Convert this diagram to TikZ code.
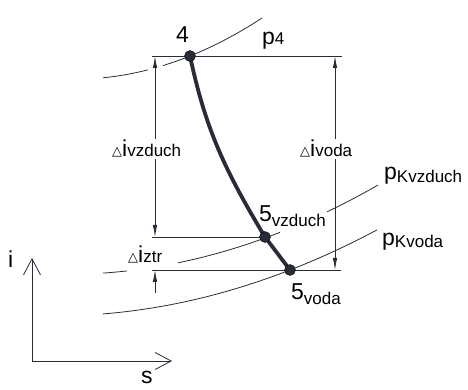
\documentclass[tikz,border=0pt]{standalone}
\usepackage{fontspec}
\setmainfont{Liberation Sans}
\newfontfamily\symfont{DejaVu Sans}
\usepackage{xcolor}
\definecolor{LineDark}{RGB}{40,44,54}
\usepackage{tikz}
\usetikzlibrary{arrows.meta, positioning, calc}

\newcommand{\mainsize}{\fontsize{23}{27}\selectfont}
\newcommand{\subsize}{\fontsize{17}{20}\selectfont}
\newcommand{\lowsub}[2][5pt]{\raisebox{-#1}{\subsize #2}}
\newcommand{\deltri}{\raisebox{1.5pt}{\symfont\fontsize{13}{15}\selectfont △}}

\tikzset{
  % thin isobars
  isobar/.style={draw=LineDark, line width=0.8pt},
  % expansion curve
  process/.style={draw=LineDark, line width=3.8pt},
  % state points
  statept/.style={
    circle, fill=LineDark, draw=black, line width=0.4pt,
    inner sep=0pt, minimum size=11pt
  },
  % dimension lines
  dimline/.style={draw=LineDark, line width=0.8pt},
  dimarr/.style={dimline,
    {Latex[length=12pt,width=4.5pt]}-{Latex[length=12pt,width=4.5pt]}},
  dimend/.style={dimline, -{Latex[length=12pt,width=4.5pt]}},
  % axes
  axisarr/.style={draw=LineDark, line width=0.8pt,
    -{Straight Barb[length=16pt,width=17pt]}},
  % labels
  lbl/.style={font=\mainsize, inner sep=0pt, anchor=base west},
  dlbl/.style={lbl, fill=white, inner sep=1.5pt},
}

\begin{document}
\begin{tikzpicture}[x=1pt, y=1pt]

  \useasboundingbox (0,0) rectangle (468,390);

  %% state points and helpers
  \coordinate (s4)   at (190,334);
  \coordinate (s5vz) at (265,153);
  \coordinate (s5vo) at (290,120);
  \coordinate (lx)   at (155,0);
  \coordinate (rx)   at (335,0);
  \coordinate (ztrbot) at (155,97);
  \coordinate (orig) at (32,29);
  \coordinate (iend) at (32,132);
  \coordinate (send) at (172,29);

  %% isobars
  \draw[isobar] plot[domain=103:148, samples=20]
    (\x, {334+0.402*(\x-190)+0.00174*(\x-190)*(\x-190)});
  \draw[isobar] plot[domain=163:262, samples=30]
    (\x, {334+0.402*(\x-190)+0.00174*(\x-190)*(\x-190)});

  \draw[isobar] plot[domain=103:127, samples=10]
    (\x, {152+0.365*(\x-265)+0.00092*(\x-265)*(\x-265)});
  \draw[isobar] plot[domain=178:280, samples=30]
    (\x, {152+0.365*(\x-265)+0.00092*(\x-265)*(\x-265)});
  \draw[isobar] plot[domain=327:378, samples=20]
    (\x, {152+0.365*(\x-265)+0.00092*(\x-265)*(\x-265)});

  \draw[isobar] plot[domain=103:377, samples=50]
    (\x, {120+0.389*(\x-290)+0.00082*(\x-290)*(\x-290)});

  %% dimensions
  \draw[dimline] (lx |- s4) ++(-3,0) -- ($(rx |- s4)+(7,0)$);
  \draw[dimline] (lx |- s5vz) ++(-3,0) -- (s5vz);
  \draw[dimline] (lx |- s5vo) ++(-3,0) -- ($(rx |- s5vo)+(6,0)$);
  \draw[dimarr] (lx |- s4) -- (lx |- s5vz);
  \draw[dimend] (ztrbot) -- (lx |- s5vo);
  \draw[dimarr] (rx |- s4) -- (rx |- s5vo);

  %% axes
  \draw[axisarr] (orig) -- (iend);
  \draw[axisarr] (orig) -- (send);

  %% expansion
  \draw[process] (s4) to[out=-78, in=121] (s5vz) -- (s5vo);
  \node[statept] (dot4)   at (s4)   {};
  \node[statept] (dot5vz) at (s5vz) {};
  \node[statept] (dot5vo) at (s5vo) {};

  %% labels
  \node[lbl] (l4)    at (176,347) {4};
  \node[lbl] (lp4)   at (262,345) {p{\subsize 4}};
  \node[lbl] (l5vz)  at (259,168) {5\lowsub{vzduch}};
  \node[lbl] (l5vo)  at (291,90)  {5\lowsub{voda}};
  \node[lbl] (lpKvz) at (384,210) {p\lowsub[3pt]{Kvzduch}};
  \node[lbl] (lpKvo) at (382,144) {p\lowsub[1.5pt]{Kvoda}};
  \node[lbl] (li)    at (8,122)   {i};
  \node[lbl] (ls)    at (141,6)   {s};

  \node[dlbl] (ldvz)  at (110.5,233) {\deltri i{\subsize vzduch}};
  \node[dlbl] (ldvo)  at (298.5,233) {\deltri i{\subsize voda}};
  \node[dlbl] (ldztr) at (126.5,127) {\deltri i{\subsize ztr}};

\end{tikzpicture}
\end{document}
